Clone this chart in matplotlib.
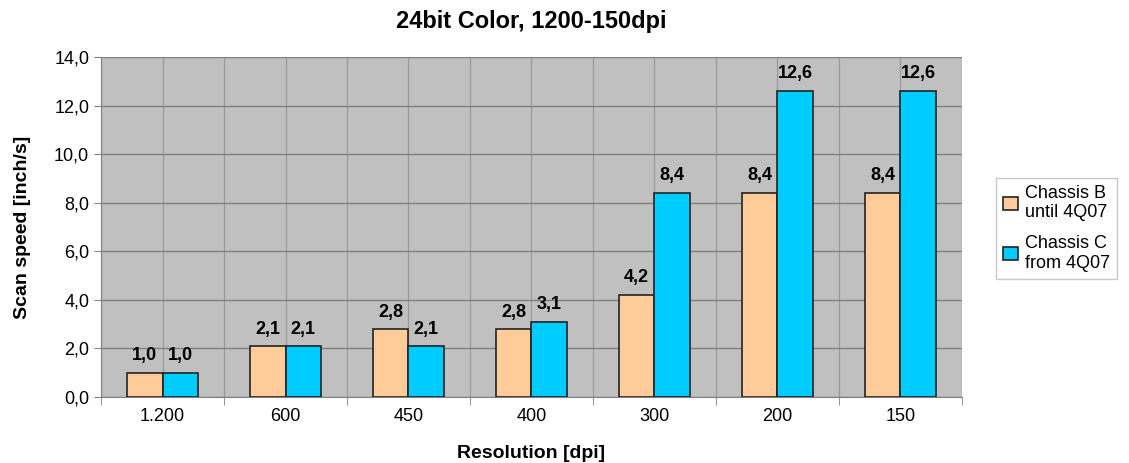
import numpy as np
import matplotlib.pyplot as plt
from matplotlib.ticker import FuncFormatter

plt.rcParams['font.family'] = ['Liberation Sans', 'DejaVu Sans']

# daten
categories = ["1.200", "600", "450", "400", "300", "200", "150"]
chassis_b = [1.0, 2.1, 2.8, 2.8, 4.2, 8.4, 8.4]
chassis_c = [1.0, 2.1, 2.1, 3.1, 8.4, 12.6, 12.6]
series_names = ["Chassis B\nuntil 4Q07", "Chassis C\nfrom 4Q07"]

fig = plt.figure(figsize=(11.29, 4.63), dpi=100)
ax = fig.add_axes([0.0895, 0.1425, 0.7625, 0.7345])
ax.set_facecolor("#C0C0C0")

x = np.arange(len(categories))
w = 0.29
b1 = ax.bar(x - w / 2, chassis_b, w, color="#FFCC99", edgecolor="#222222", linewidth=1.2, zorder=3, label=series_names[0])
b2 = ax.bar(x + w / 2, chassis_c, w, color="#00CCFF", edgecolor="#222222", linewidth=1.2, zorder=3, label=series_names[1])

# werte über den balken
for rects in (b1, b2):
    for r in rects:
        ax.text(r.get_x() + r.get_width() / 2, r.get_height() + 0.35,
                f"{r.get_height():.1f}".replace(".", ","),
                ha="center", va="bottom", fontsize=13, fontweight="bold", zorder=4)

ax.set_xlim(-0.5, len(categories) - 0.5)
ax.set_ylim(0, 14)
ax.set_yticks(np.arange(0, 15, 2))
ax.yaxis.set_major_formatter(FuncFormatter(lambda v, p: f"{v:.1f}".replace(".", ",")))
ax.set_xticks(x)
ax.set_xticklabels(categories)
ax.set_xticks(np.arange(-0.5, len(categories), 1), minor=True)
ax.tick_params(axis="x", which="major", length=0, labelsize=13, pad=8)
ax.tick_params(axis="x", which="minor", length=6, color="#808080")
ax.tick_params(axis="y", length=5, color="#808080", labelsize=13)

# gitterlinien
ax.grid(axis="y", color="#808080", linewidth=1, zorder=0)
for gx in np.arange(-0.5, len(categories), 0.5):
    ax.axvline(gx, color="#999999", linewidth=0.9, zorder=0)

for s in ["top", "right"]:
    ax.spines[s].set_visible(False)
for s in ["left", "bottom"]:
    ax.spines[s].set_color("#808080")

ax.set_title("24bit Color, 1200-150dpi", fontsize=17, fontweight="bold", pad=21)
ax.set_xlabel("Resolution [dpi]", fontsize=14, fontweight="bold", labelpad=14)
ax.set_ylabel("Scan speed [inch/s]", fontsize=14, fontweight="bold", labelpad=17)

leg = fig.legend(loc="center left", bbox_to_anchor=(0.879, 0.507), fontsize=13,
                 frameon=True, fancybox=False, edgecolor="#BBBBBB",
                 handlelength=0.8, handleheight=0.8, handletextpad=0.4, labelspacing=0.75,
                 borderaxespad=0.2)

plt.savefig("out.png", dpi=100)
